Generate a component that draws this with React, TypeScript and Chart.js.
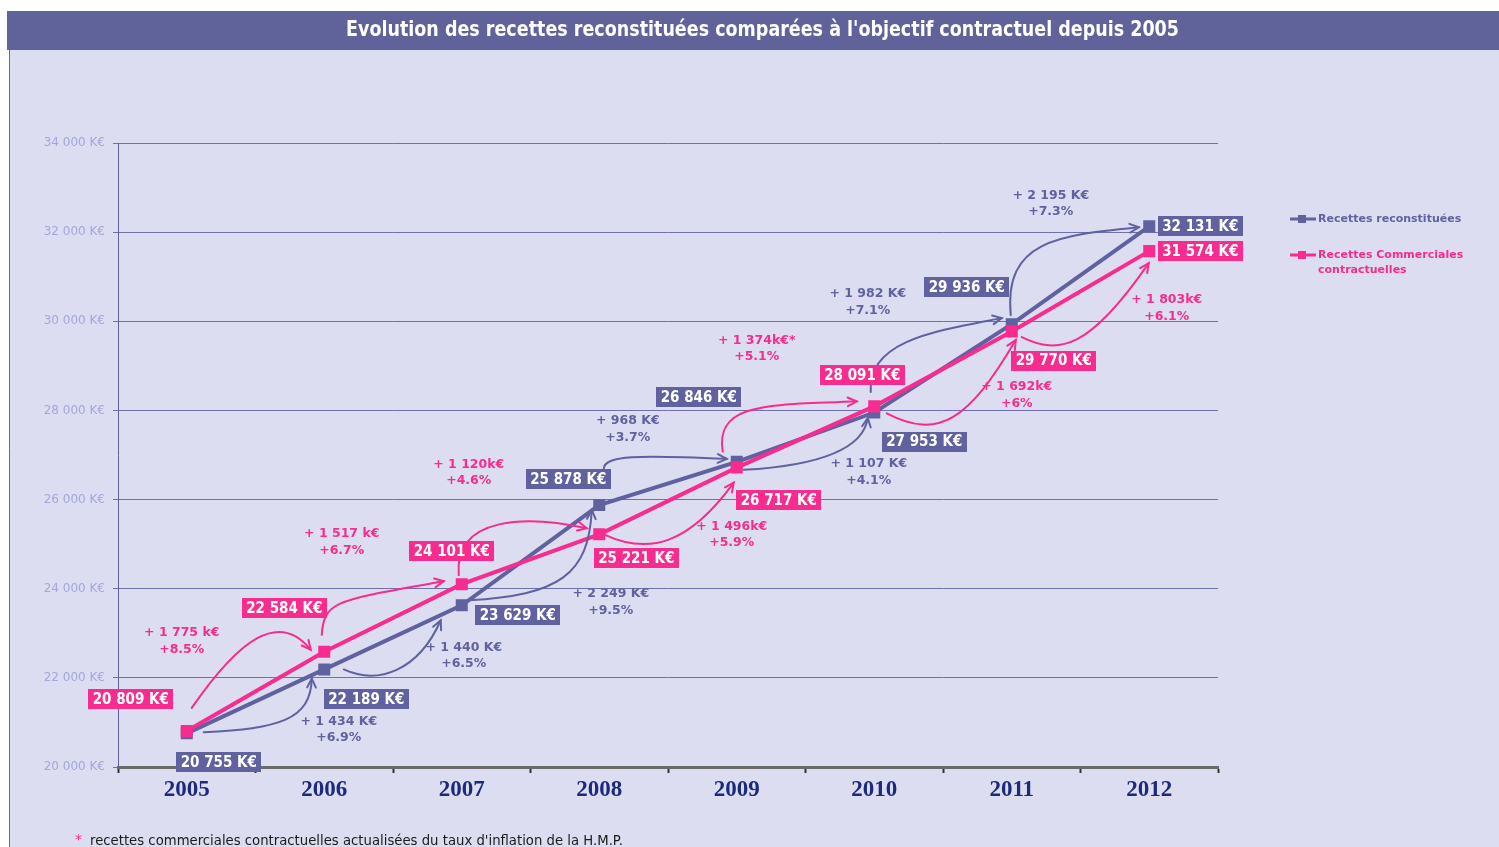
import React, { useEffect, useRef } from 'react';
import { Chart, registerables } from 'chart.js';

Chart.register(...registerables);

// ---------- DATA ----------
const titleText = "Evolution des recettes reconstituées comparées à l'objectif contractuel depuis 2005";
const years = ['2005', '2006', '2007', '2008', '2009', '2010', '2011', '2012'];
const reconstituees = [20755, 22189, 23629, 25878, 26846, 27953, 29936, 32131];
const commerciales = [20809, 22584, 24101, 25221, 26717, 28091, 29770, 31574];
const yTickValues = [20000, 22000, 24000, 26000, 28000, 30000, 32000, 34000];
const growthReconstituees = [
  ['+ 1 434 K€', '+6.9%'],
  ['+ 1 440 K€', '+6.5%'],
  ['+ 2 249 K€', '+9.5%'],
  ['+ 968 K€', '+3.7%'],
  ['+ 1 107 K€', '+4.1%'],
  ['+ 1 982 K€', '+7.1%'],
  ['+ 2 195 K€', '+7.3%'],
];
const growthCommerciales = [
  ['+ 1 775 k€', '+8.5%'],
  ['+ 1 517 k€', '+6.7%'],
  ['+ 1 120k€', '+4.6%'],
  ['+ 1 496k€', '+5.9%'],
  ['+ 1 374k€*', '+5.1%'],
  ['+ 1 692k€', '+6%'],
  ['+ 1 803k€', '+6.1%'],
];
const legendReconstituees = ['Recettes reconstituées'];
const legendCommerciales = ['Recettes Commerciales', 'contractuelles'];
const footnoteStar = '*';
const footnoteText = "recettes commerciales contractuelles actualisées du taux d'inflation de la H.M.P.";

// ---------- STYLE / LAYOUT ----------
const BLUE = '#5F629F';
const PINK = '#F72C8E';
const PANEL = '#DCDDF0';
const TITLEBAR = '#5F6399';

// value-box offsets relative to their point (px)
const boxOffBlue = [[32, 29], [42, 30], [56, 10], [-31, -26], [-38, -65], [50, 29], [-45, -37], [51, 0]];
const boxOffPink = [[-56, -32], [-40, -44], [-10, -33], [37, 24], [42, 32], [-12, -31], [42, 29], [51, 0]];
// growth label offsets relative to the end point of the step
const growOffBlue = [[14.5, 52], [2, 42], [11.5, 89], [-109, -41], [-5.5, 51.5], [-144, -30], [-98.5, -31]];
const growOffPink = [[-142.5, -19], [-120, -50], [-130.5, -70], [-5, 59], [-117.5, -66], [5, 55.5], [17.5, 49]];
// arrows: start & ctrl1 relative to point i; ctrl2 & end relative to point i+1
const arrowsBlue = [
  [[17, -1], [92, -5], [-13.5, 51], [-12.5, 9]],
  [[19.5, 0], [54.5, 16], [-43, 65], [-21, 15]],
  [[7, -5], [97, -10], [-10.5, 70], [-7.5, 5]],
  [[4.5, -36], [4.5, -50], [-98, -7], [-10, -3]],
  [[7, 8], [92, 3], [-10.5, 32.5], [-6.5, 5.5]],
  [[-3.5, -20.5], [-7.5, -72.5], [-73, 6], [-10, -6]],
  [[-1, -9], [-8, -84], [-90.5, 9], [-10.5, 1]],
];
const arrowsPink = [
  [[5, -23], [52, -91], [-45.5, -42], [-13.5, -2]],
  [[-2.5, -17], [-0.5, -52], [-123, 16], [-18, -3]],
  [[-3, -9], [-8, -69], [-70.5, -19], [-12.5, -6]],
  [[4.5, 0], [49.5, 21], [-48, 77], [-3, 15]],
  [[-14, -16], [-23, -68], [-95.5, -1], [-17.5, -5]],
  [[12.5, 7], [64.5, 34], [-43, 88.5], [4, 8.5]],
  [[10, 5.5], [47, 23.5], [-60.5, 99], [-0.5, 12]],
];

const fmt = (v: number) => String(v).replace(/\B(?=(\d{3})+(?!\d))/g, ' ');

const decorPlugin = {
  id: 'decor',
  beforeDraw(chart: any) {
    const ctx = chart.ctx;
    const W = chart.width, H = chart.height;
    ctx.save();
    ctx.fillStyle = '#ffffff';
    ctx.fillRect(0, 0, W, H);
    ctx.fillStyle = PANEL;
    ctx.fillRect(9, 50, W - 9, H - 50);
    ctx.fillStyle = TITLEBAR;
    ctx.fillRect(7, 11, W - 7, 39);
    ctx.strokeStyle = '#6466A0';
    ctx.lineWidth = 1;
    ctx.beginPath();
    ctx.moveTo(9.5, 50);
    ctx.lineTo(9.5, H);
    ctx.stroke();
    ctx.restore();
  },
  afterDatasetsDraw(chart: any) {
    const ctx = chart.ctx;
    const xs = chart.scales.x;
    const ys = chart.scales.y;
    const pt = (arr: number[], i: number) => [xs.getPixelForValue(i), ys.getPixelForValue(arr[i])];

    const drawArrows = (arr: number[], defs: number[][][], color: string) => {
      ctx.save();
      ctx.strokeStyle = color;
      ctx.lineWidth = 2;
      ctx.lineCap = 'round';
      defs.forEach((d, i) => {
        const [ax, ay] = pt(arr, i);
        const [bx, by] = pt(arr, i + 1);
        const s = [ax + d[0][0], ay + d[0][1]];
        const c1 = [ax + d[1][0], ay + d[1][1]];
        const c2 = [bx + d[2][0], by + d[2][1]];
        const e = [bx + d[3][0], by + d[3][1]];
        ctx.beginPath();
        ctx.moveTo(s[0], s[1]);
        ctx.bezierCurveTo(c1[0], c1[1], c2[0], c2[1], e[0], e[1]);
        ctx.stroke();
        const ang = Math.atan2(e[1] - c2[1], e[0] - c2[0]);
        const L = 10, spread = 0.45;
        ctx.beginPath();
        ctx.moveTo(e[0] - L * Math.cos(ang - spread), e[1] - L * Math.sin(ang - spread));
        ctx.lineTo(e[0], e[1]);
        ctx.lineTo(e[0] - L * Math.cos(ang + spread), e[1] - L * Math.sin(ang + spread));
        ctx.stroke();
      });
      ctx.restore();
    };
    drawArrows(reconstituees, arrowsBlue, BLUE);
    drawArrows(commerciales, arrowsPink, PINK);

    const drawBoxes = (arr: number[], offs: number[][], color: string) => {
      ctx.save();
      ctx.font = "bold 15px 'DejaVu Sans Condensed', 'DejaVu Sans', sans-serif";
      ctx.textAlign = 'center';
      ctx.textBaseline = 'middle';
      arr.forEach((v, i) => {
        const [px, py] = pt(arr, i);
        const cx = px + offs[i][0], cy = py + offs[i][1];
        ctx.fillStyle = color;
        ctx.fillRect(Math.round(cx - 42.5), Math.round(cy - 10), 85, 20);
        ctx.fillStyle = '#ffffff';
        ctx.fillText(fmt(v) + ' K€', cx, cy + 1, 78);
      });
      ctx.restore();
    };
    drawBoxes(reconstituees, boxOffBlue, BLUE);
    drawBoxes(commerciales, boxOffPink, PINK);

    const drawGrowth = (arr: number[], labels: string[][], offs: number[][], color: string) => {
      ctx.save();
      ctx.font = "bold 12.5px 'DejaVu Sans', sans-serif";
      ctx.textAlign = 'center';
      ctx.textBaseline = 'middle';
      ctx.fillStyle = color;
      labels.forEach((lab, i) => {
        const [px, py] = pt(arr, i + 1);
        const cx = px + offs[i][0], cy = py + offs[i][1];
        ctx.fillText(lab[0], cx, cy);
        ctx.fillText(lab[1], cx, cy + 16.5);
      });
      ctx.restore();
    };
    drawGrowth(reconstituees, growthReconstituees, growOffBlue, BLUE);
    drawGrowth(commerciales, growthCommerciales, growOffPink, PINK);
  },
  afterDraw(chart: any) {
    const ctx = chart.ctx;
    ctx.save();
    // title
    ctx.fillStyle = '#ffffff';
    ctx.font = "bold 21px 'DejaVu Sans Condensed', 'Liberation Sans Narrow', 'DejaVu Sans', sans-serif";
    ctx.textAlign = 'center';
    ctx.textBaseline = 'middle';
    ctx.fillText(titleText, 762.5, 31, 833);

    // legend
    const legendItem = (lines: string[], y: number, color: string) => {
      ctx.strokeStyle = color;
      ctx.lineWidth = 3;
      ctx.beginPath();
      ctx.moveTo(1290, y);
      ctx.lineTo(1316, y);
      ctx.stroke();
      ctx.fillStyle = color;
      ctx.fillRect(1298, y - 4, 8, 8);
      ctx.font = "bold 11px 'DejaVu Sans', sans-serif";
      ctx.textAlign = 'left';
      ctx.textBaseline = 'middle';
      lines.forEach((t, k) => ctx.fillText(t, 1318, y + k * 15.5, 152));
    };
    legendItem(legendReconstituees, 219, BLUE);
    legendItem(legendCommerciales, 255, PINK);

    // footnote
    ctx.textAlign = 'left';
    ctx.textBaseline = 'alphabetic';
    ctx.font = "14px 'DejaVu Sans', sans-serif";
    ctx.fillStyle = PINK;
    ctx.fillText(footnoteStar, 75, 844);
    ctx.fillStyle = '#1a1a1a';
    ctx.fillText(footnoteText, 90, 845, 533);
    ctx.restore();
  },
};

export default function App() {
  const ref = useRef<HTMLCanvasElement | null>(null);
  useEffect(() => {
    if (!ref.current) return;
    const chart = new Chart(ref.current, {
      type: 'line',
      data: {
        labels: years,
        datasets: [
          {
            label: legendCommerciales.join(' '),
            data: commerciales,
            borderColor: PINK,
            backgroundColor: PINK,
            pointBackgroundColor: PINK,
            pointBorderColor: PINK,
            borderWidth: 4,
            pointStyle: 'rect',
            pointRadius: 8.5,
            pointBorderWidth: 0,
            tension: 0,
          },
          {
            label: legendReconstituees[0],
            data: reconstituees,
            borderColor: BLUE,
            backgroundColor: BLUE,
            pointBackgroundColor: BLUE,
            pointBorderColor: BLUE,
            borderWidth: 4,
            pointStyle: 'rect',
            pointRadius: 8.5,
            pointBorderWidth: 0,
            tension: 0,
          },
        ],
      },
      options: {
        responsive: false,
        animation: false,
        devicePixelRatio: 1,
        layout: { padding: { left: 0, right: 281, top: 143, bottom: 0 } },
        plugins: {
          legend: { display: false },
          title: { display: false },
          tooltip: { enabled: false },
        },
        scales: {
          x: {
            type: 'category',
            offset: true,
            grid: {
              offset: true,
              drawOnChartArea: false,
              drawTicks: true,
              tickLength: 6,
              tickColor: '#333333',
              tickWidth: 2,
            },
            border: { display: true, color: '#6b6b6b', width: 3 },
            ticks: {
              color: '#1B2A7B',
              font: { family: "'Liberation Serif', serif", size: 23, weight: 'bold' },
              padding: 3,
              maxRotation: 0,
              autoSkip: false,
            },
            afterFit: (s: any) => { s.height = 80; },
          },
          y: {
            min: 20000,
            max: 34000,
            afterBuildTicks: (s: any) => { s.ticks = yTickValues.map((v) => ({ value: v })); },
            ticks: {
              callback: (v: any) => fmt(Number(v)) + ' K€',
              color: '#A3A7DB',
              font: { family: "'DejaVu Sans', sans-serif", size: 12 },
              padding: 8,
            },
            grid: { color: '#6E71AA', lineWidth: 1, tickLength: 5, tickColor: '#6E71AA' },
            border: { display: true, color: BLUE, width: 1 },
            afterFit: (s: any) => { s.width = 118; },
          },
        },
      },
      plugins: [decorPlugin],
    } as any);
    return () => chart.destroy();
  }, []);
  return (
    <div style={{ position: 'absolute', left: 0, top: 0, width: 1499, height: 847 }}>
      <canvas ref={ref} width={1499} height={847} style={{ display: 'block' }} />
    </div>
  );
}
